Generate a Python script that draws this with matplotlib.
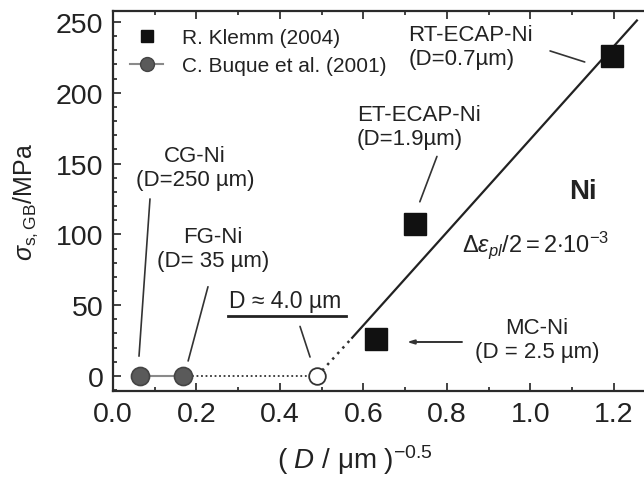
import numpy as np
import matplotlib
matplotlib.use("Agg")
import matplotlib.pyplot as plt
from matplotlib.lines import Line2D
from matplotlib.legend_handler import HandlerLine2D
from matplotlib.ticker import MultipleLocator

plt.rcParams['font.family'] = ['Liberation Sans', 'DejaVu Sans']
plt.rcParams['mathtext.fontset'] = 'custom'
plt.rcParams['mathtext.rm'] = 'Liberation Sans'
plt.rcParams['mathtext.it'] = 'Liberation Sans:italic'
plt.rcParams['mathtext.bf'] = 'Liberation Sans:bold'

# data, x = (D / um)^-0.5
buque_x = [0.065, 0.168]          # CG-Ni (250 um), FG-Ni (35 um)
buque_y = [0, 0]
open_x = [0.489]                  # D = 4.0 um
open_y = [0]
klemm_x = [0.630, 0.723, 1.195]   # MC-Ni, ET-ECAP-Ni, RT-ECAP-Ni
klemm_y = [26, 107, 226]
fit_x = [0.573, 1.255]
fit_y = [27, 251]
fit_dot_x = [0.489, 0.573]
fit_dot_y = [0, 27]

ink = '#222222'

fig = plt.figure(figsize=(6.44, 4.81), dpi=100)
ax = fig.add_axes([113/644, 89/481, 531/644, 380/481])

ax.plot(buque_x, buque_y, '-', color='#8a8a8a', lw=1.5, zorder=2)
ax.plot([buque_x[-1], open_x[0]], [0, 0], ls=(0, (1, 1.5)), color='#333333', lw=1.3, zorder=1)
ax.plot(buque_x, buque_y, 'o', ms=13, mfc='#5a5a5a', mec='#444444', mew=1.2, zorder=3)
ax.plot(open_x, open_y, 'o', ms=12, mfc='white', mec='#333333', mew=1.3, zorder=3)
ax.plot(fit_x, fit_y, '-', color=ink, lw=1.6)
ax.plot(fit_dot_x, fit_dot_y, ls=(0, (1, 2)), color='#333333', lw=1.8)
ax.plot(klemm_x, klemm_y, 's', ms=16.5, color='#111111', zorder=4)

ax.set_xlim(0, 1.272)
ax.set_ylim(-10.6, 257.7)
ax.xaxis.set_minor_locator(MultipleLocator(0.1))
ax.yaxis.set_major_locator(MultipleLocator(50))
ax.yaxis.set_minor_locator(MultipleLocator(10))
ax.set_xticks(np.arange(0, 1.21, 0.2))
ax.set_xticklabels(['0.0', '0.2', '0.4', '0.6', '0.8', '1.0', '1.2'])
ax.tick_params(which='both', direction='in', top=True, right=False, colors=ink, width=1.2)
ax.tick_params(which='major', length=6, labelsize=20.5, pad=7)
ax.tick_params(which='minor', length=3)
for s in ['left', 'bottom', 'top']:
    ax.spines[s].set_color('#2a2a2a')
    ax.spines[s].set_linewidth(1.6)
ax.spines['right'].set_visible(False)

ax.set_ylabel(r'$\sigma_{\mathrm{s,GB}}$/MPa', fontsize=18, color=ink)
ax.yaxis.set_label_coords(-0.138, 0.5)
ax.set_xlabel(r'$(\ \mathit{D}\ /\ \mathrm{\mu m}\ )^{-0.5}$', fontsize=20, color=ink)
ax.xaxis.set_label_coords(0.456, -0.135)


class RightMarker(HandlerLine2D):
    def get_xdata(self, legend, xdescent, ydescent, width, height, fontsize):
        xdata = np.array([-xdescent, -xdescent + width])
        return xdata, xdata[1:]


h_klemm = Line2D([], [], ls='none', marker='s', ms=9, color='#111111')
h_buque = Line2D([], [], ls='-', color='#8a8a8a', lw=1.5, marker='o', ms=10,
                 mfc='#5a5a5a', mec='#444444')
ax.legend([h_klemm, h_buque], ['R. Klemm (2004)', 'C. Buque et al. (2001)'],
          loc='upper left', bbox_to_anchor=(0.032, 0.955), frameon=False,
          fontsize=15, handlelength=1.6, handletextpad=0.9, labelspacing=0.45,
          borderpad=0, borderaxespad=0, labelcolor=ink,
          handler_map={Line2D: RightMarker()})

fs = 16
line_kw = dict(arrowstyle='-', color='#333333', lw=1.2, shrinkA=0, shrinkB=0)

ax.text(0.197, 147, 'CG-Ni\n(D=250 µm)', fontsize=fs, ha='center', va='center', color=ink)
ax.annotate('', xy=(0.0623, 14), xytext=(0.0886, 125), arrowprops=line_kw)

ax.text(0.24, 90, 'FG-Ni\n(D= 35 µm)', fontsize=fs, ha='center', va='center', color=ink)
ax.annotate('', xy=(0.18, 10.6), xytext=(0.2275, 63), arrowprops=line_kw)

ax.text(0.413, 53, 'D ≈ 4.0 µm', fontsize=16.5, ha='center', va='center', color=ink)
ax.plot([0.275, 0.557], [42.4, 42.4], color=ink, lw=2)
ax.annotate('', xy=(0.472, 13.4), xytext=(0.448, 35), arrowprops=line_kw)

ax.text(0.584, 176, 'ET-ECAP-Ni\n(D=1.9µm)', fontsize=fs, ha='left', va='center', color=ink)
ax.annotate('', xy=(0.735, 123), xytext=(0.776, 155), arrowprops=line_kw)

ax.text(0.707, 232.6, 'RT-ECAP-Ni\n(D=0.7µm)', fontsize=fs, ha='left', va='center', color=ink)
ax.annotate('', xy=(1.130, 221.7), xytext=(1.047, 229.5), arrowprops=line_kw)

ax.text(1.016, 26, 'MC-Ni\n(D = 2.5 µm)', fontsize=fs, ha='center', va='center', color=ink)
ax.annotate('', xy=(0.704, 24), xytext=(0.836, 24),
            arrowprops=dict(arrowstyle='-|>,head_length=0.4,head_width=0.12',
                            color='#333333', lw=1.4, shrinkA=0, shrinkB=0))

ax.text(1.126, 130.6, 'Ni', fontsize=20, fontweight='bold', ha='center', va='center', color=ink)
ax.text(0.836, 93, r'$\mathit{\Delta\varepsilon_{pl}}/2 = 2{\cdot}10^{-3}$',
        fontsize=17, ha='left', va='center', color=ink)

fig.savefig('out.png', dpi=100)
